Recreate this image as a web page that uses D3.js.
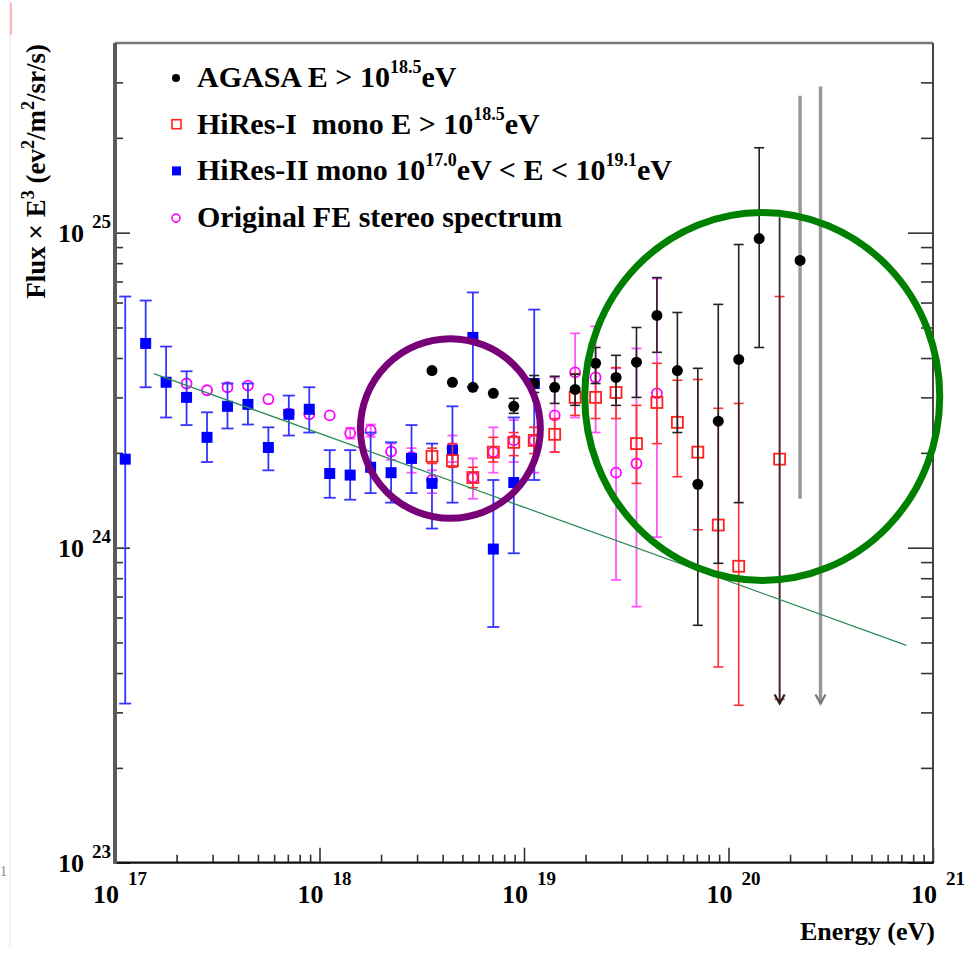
<!DOCTYPE html>
<html>
<head>
<meta charset="utf-8">
<script src="https://cdn.jsdelivr.net/npm/d3@7"></script>
<style>
  body { margin: 0; background: #fff; }
  svg { display: block; font-family: "Liberation Serif", "Times New Roman", serif; font-weight: bold; }
  text { white-space: pre; }
</style>
</head>
<body>
<svg id="chart" width="968" height="953"></svg>
<script>
// energies are log10(E / eV), fluxes are Flux x E^3 in units of 1e24 eV^2/m^2/sr/s
const hires2E  = [17.05, 17.15, 17.25, 17.35, 17.45, 17.55, 17.65, 17.75, 17.85, 17.95, 18.05, 18.15, 18.25, 18.35, 18.45, 18.55, 18.65, 18.75, 18.85, 18.95, 19.05];
const hires2F  = [1.91, 4.45, 3.35, 3.00, 2.24, 2.81, 2.85, 2.08, 2.65, 2.75, 1.72, 1.70, 1.80, 1.73, 1.92, 1.60, 2.04, 4.65, 0.99, 1.61, 3.32];
const hires2Lo = [0.32, 3.23, 2.59, 2.45, 1.87, 2.39, 2.46, 1.76, 2.27, 2.32, 1.44, 1.42, 1.49, 1.39, 1.49, 1.15, 1.39, 3.23, 0.56, 0.96, 1.64];
const hires2Hi = [6.27, 6.09, 4.35, 3.63, 2.69, 3.32, 3.32, 2.41, 3.04, 3.23, 2.04, 2.04, 2.32, 2.16, 2.45, 2.14, 2.81, 6.46, 1.64, 2.59, 5.70];

const feE  = [17.35, 17.45, 17.55, 17.65, 17.75, 17.85, 17.95, 18.05, 18.15, 18.25, 18.35, 18.45, 18.55, 18.65, 18.75, 18.85, 18.95, 19.05, 19.15, 19.25, 19.35, 19.45, 19.55, 19.65];
const feF  = [3.32, 3.16, 3.23, 3.27, 2.96, 2.67, 2.65, 2.63, 2.31, 2.36, 2.02, 1.94, 1.64, 2.07, 1.67, 2.01, 2.19, 2.19, 2.63, 3.60, 3.47, 1.73, 1.85, 3.09];
const feLo = [3.32, 3.16, 3.23, 3.27, 2.96, 2.67, 2.65, 2.63, 2.22, 2.25, 1.90, 1.73, 1.49, 1.87, 1.43, 1.73, 1.87, 1.73, 2.01, 2.59, 2.32, 0.79, 0.65, 1.08];
const feHi = [3.32, 3.16, 3.23, 3.27, 2.96, 2.67, 2.65, 2.63, 2.40, 2.46, 2.14, 2.07, 1.76, 2.27, 1.92, 2.41, 2.54, 2.41, 3.47, 4.79, 5.04, 3.71, 4.29, 7.15];

const hires1E  = [18.55, 18.65, 18.75, 18.85, 18.95, 19.05, 19.15, 19.25, 19.35, 19.45, 19.55, 19.65, 19.75, 19.85, 19.95, 20.05, 20.25];
const hires1F  = [1.95, 1.89, 1.67, 2.01, 2.16, 2.19, 2.29, 3.00, 3.00, 3.11, 2.14, 2.89, 2.50, 2.01, 1.18, 0.873, 1.91];
const hires1Lo = [1.85, 1.80, 1.55, 1.87, 1.96, 1.99, 2.01, 2.63, 2.57, 2.57, 1.60, 2.14, 1.68, 1.14, 0.418, 0.316, 0.33];
const hires1Hi = [2.07, 2.14, 1.80, 2.24, 2.32, 2.41, 2.57, 3.57, 3.85, 3.73, 2.83, 3.85, 3.40, 3.42, 2.77, 2.87, 6.27];

const agasaE  = [18.55, 18.65, 18.75, 18.85, 18.95, 19.05, 19.15, 19.25, 19.35, 19.45, 19.55, 19.65, 19.75, 19.85, 19.95, 20.05, 20.15, 20.35];
const agasaF  = [3.65, 3.35, 3.23, 3.09, 2.81, 3.32, 3.23, 3.18, 3.85, 3.47, 3.88, 5.46, 3.65, 1.59, 2.52, 3.96, 9.58, 8.16];
const agasaLo = [3.65, 3.35, 3.23, 3.09, 2.67, 3.11, 2.87, 2.83, 3.32, 2.83, 3.00, 4.17, 2.32, 0.567, 0.892, 1.39, 4.32, 1.43];
const agasaHi = [3.65, 3.35, 3.23, 3.09, 2.98, 3.52, 3.50, 3.55, 4.32, 4.08, 5.00, 7.20, 5.58, 3.71, 5.92, 9.17, 18.6, 27.2];
// upper limits drawn as arrows
const agasaLimE   = [20.25, 20.45];
const agasaLimTop = [11.2, 29.1];
const agasaLimTip = [0.32, 0.32];

// straight line fit
const fitE = [17.19, 20.87];
const fitF = [3.57, 0.49];

// highlighted regions: centre (log E, flux) and half widths in decades
const markE  = [18.64, 20.165];
const markF  = [2.39, 3.02];
const markRx = [0.44, 0.868];
const markRy = [0.285, 0.584];

const xTickExp = [17, 18, 19, 20, 21];
const yTickExp = [23, 24, 25];

const legendLabels = [
  "AGASA E > 10^{18.5}eV",
  "HiRes-I  mono E > 10^{18.5}eV",
  "HiRes-II mono 10^{17.0}eV < E < 10^{19.1}eV",
  "Original FE stereo spectrum"
];

const svg = d3.select("#chart");
const pL = 115, pR = 933, pT = 43, pB = 862.7;

const x = d3.scaleLog().domain([1e17, 1e21]).range([pL, pR]);
const y = d3.scaleLog().domain([0.1, 40]).range([pB, pT]);
const xe = e => x(Math.pow(10, e));

// faint page edge
svg.append("line").attr("x1", 10).attr("x2", 10).attr("y1", 0).attr("y2", 948)
  .attr("stroke", "#ffdede").attr("stroke-width", 1);
svg.append("line").attr("x1", 11).attr("x2", 11).attr("y1", 3).attr("y2", 35)
  .attr("stroke", "#ffb8b8").attr("stroke-width", 2);
svg.append("text").attr("x", 0).attr("y", 876).attr("font-size", 14)
  .attr("font-weight", "normal").attr("fill", "#888").text("1");

// ticks
const xMinor = [], yMinor = [];
for (let n = 17; n < 21; n++) for (let k = 2; k < 10; k++) xMinor.push(k * Math.pow(10, n));
for (let n = -1; n < 2; n++) for (let k = 2; k < 10; k++) {
  const v = k * Math.pow(10, n);
  if (v < 39) yMinor.push(v);
}
const xMajor = xTickExp.map(p => Math.pow(10, p));
const yMajor = yTickExp.map(p => Math.pow(10, p - 24));

const tickAxis = (gen, vals, size, tx, ty) => {
  const g = svg.append("g").attr("transform", `translate(${tx},${ty})`)
    .call(gen.tickValues(vals).tickSize(size).tickFormat(""));
  g.select(".domain").remove();
  g.selectAll("line").attr("stroke", "#333").attr("stroke-width", 1.6);
};
tickAxis(d3.axisBottom(x), xMajor, -15, 0, pB);
tickAxis(d3.axisBottom(x), xMinor, -8, 0, pB);
tickAxis(d3.axisLeft(y), yMajor, -15, pL, 0);
tickAxis(d3.axisLeft(y), yMinor, -8, pL, 0);
tickAxis(d3.axisRight(y), yMajor, -25, pR, 0);
tickAxis(d3.axisRight(y), yMinor, -12, pR, 0);

// frame
svg.append("line").attr("x1", pL).attr("x2", pR).attr("y1", pT).attr("y2", pT)
  .attr("stroke", "#777").attr("stroke-width", 2.5);
svg.append("line").attr("x1", pR).attr("x2", pR).attr("y1", pT).attr("y2", pB)
  .attr("stroke", "#444").attr("stroke-width", 2);
svg.append("line").attr("x1", pL).attr("x2", pR + 1).attr("y1", pB).attr("y2", pB)
  .attr("stroke", "#111").attr("stroke-width", 2.2);
svg.append("line").attr("x1", pL).attr("x2", pL).attr("y1", pT).attr("y2", pB + 1)
  .attr("stroke", "#5a5a5a").attr("stroke-width", 4);

// tick labels
xTickExp.forEach(p => {
  const t = svg.append("text").attr("x", x(Math.pow(10, p)) - 22).attr("y", 903).attr("font-size", 26);
  t.append("tspan").text("10");
  t.append("tspan").attr("dx", 9).attr("dy", -18).attr("font-size", 19).text(p);
});
yTickExp.forEach(p => {
  const t = svg.append("text").attr("x", 58).attr("y", y(Math.pow(10, p - 24)) + 9).attr("font-size", 26);
  t.append("tspan").text("10");
  t.append("tspan").attr("dx", 8).attr("dy", -14).attr("font-size", 19).text(p);
});

// rich text with ^{...} superscripts
const rich = (sel, str, size, supSize, raise) => {
  const parts = str.split(/(\^\{[^}]*\})/).filter(s => s.length);
  let up = false;
  parts.forEach(p => {
    if (p.startsWith("^{")) {
      sel.append("tspan").attr("dy", -raise).attr("font-size", supSize).text(p.slice(2, -1));
      up = true;
    } else {
      sel.append("tspan").attr("dy", up ? raise : 0).attr("font-size", size).text(p);
      up = false;
    }
  });
};

// axis titles
const yt = svg.append("text").attr("transform", "translate(45,44) rotate(-90)")
  .attr("text-anchor", "end");
rich(yt, "Flux \u00d7 E^{3} (ev^{2}/m^{2}/sr/s)", 27, 18, 11);
svg.append("text").attr("x", 935).attr("y", 940).attr("text-anchor", "end")
  .attr("font-size", 26).text("Energy (eV)");

// data helpers
const rows = (E, F, lo, hi) => E.map((e, i) => ({ x: xe(e), y: y(F[i]), lo: y(lo[i]), hi: y(hi[i]), top: hi[i] }));

const errBars = (data, color, width, cap) => {
  const g = svg.append("g").attr("stroke", color).attr("stroke-width", width);
  const withErr = data.filter(d => Math.abs(d.lo - d.hi) > 0.5);
  g.selectAll("line.bar").data(withErr).join("line").attr("class", "bar")
    .attr("x1", d => d.x).attr("x2", d => d.x).attr("y1", d => d.lo).attr("y2", d => d.hi);
  g.selectAll("line.capLo").data(withErr).join("line").attr("class", "capLo")
    .attr("x1", d => d.x - cap).attr("x2", d => d.x + cap).attr("y1", d => d.lo).attr("y2", d => d.lo);
  g.selectAll("line.capHi").data(withErr).join("line").attr("class", "capHi")
    .attr("x1", d => d.x - cap).attr("x2", d => d.x + cap).attr("y1", d => d.hi).attr("y2", d => d.hi);
  return g;
};

// Original FE stereo (magenta circles)
const fe = rows(feE, feF, feLo, feHi);
errBars(fe, "#ff55ff", 1.8, 5);
svg.append("g").selectAll("circle").data(fe).join("circle")
  .attr("cx", d => d.x).attr("cy", d => d.y).attr("r", 5)
  .attr("fill", "none").attr("stroke", "#ff00ff").attr("stroke-width", 1.8);

// HiRes-II (blue filled squares)
const h2 = rows(hires2E, hires2F, hires2Lo, hires2Hi);
errBars(h2, "#3535ff", 1.8, 6);
svg.append("g").selectAll("rect").data(h2).join("rect")
  .attr("x", d => d.x - 5.5).attr("y", d => d.y - 5.5).attr("width", 11).attr("height", 11)
  .attr("fill", "#0000ff");

// HiRes-I (red open squares)
const h1 = rows(hires1E, hires1F, hires1Lo, hires1Hi);
errBars(h1, "#ff3030", 1.6, 5);
svg.append("g").selectAll("rect").data(h1).join("rect")
  .attr("x", d => d.x - 5.5).attr("y", d => d.y - 5.5).attr("width", 11).attr("height", 11)
  .attr("fill", "none").attr("stroke", "#ff2020").attr("stroke-width", 1.8);

// AGASA (black dots), very long bars come out grey and capless
const ag = rows(agasaE, agasaF, agasaLo, agasaHi);
errBars(ag.filter(d => d.top < 20), "#222", 1.6, 5);
svg.append("g").selectAll("line").data(ag.filter(d => d.top >= 20)).join("line")
  .attr("x1", d => d.x).attr("x2", d => d.x).attr("y1", d => d.lo).attr("y2", d => d.hi)
  .attr("stroke", "#999").attr("stroke-width", 3.5);

const lims = agasaLimE.map((e, i) => ({ x: xe(e), top: y(agasaLimTop[i]), tip: y(agasaLimTip[i]), v: agasaLimTop[i] }));
const limG = svg.append("g").attr("fill", "none");
limG.selectAll("line").data(lims).join("line")
  .attr("x1", d => d.x).attr("x2", d => d.x).attr("y1", d => d.top).attr("y2", d => d.tip)
  .attr("stroke", d => d.v >= 20 ? "#999" : "#333")
  .attr("stroke-width", d => d.v >= 20 ? 3.5 : 1.8);
limG.selectAll("path").data(lims).join("path")
  .attr("d", d => `M${d.x - 5},${d.tip - 9}L${d.x},${d.tip}L${d.x + 5},${d.tip - 9}`)
  .attr("stroke", d => d.v >= 20 ? "#777" : "#222").attr("stroke-width", 2.2);

svg.append("g").selectAll("circle").data(ag).join("circle")
  .attr("cx", d => d.x).attr("cy", d => d.y).attr("r", 5.5).attr("fill", "#000");

// fit line
const fitLine = d3.line().x(d => xe(d[0])).y(d => y(d[1]));
svg.append("path").datum(fitE.map((e, i) => [e, fitF[i]]))
  .attr("d", fitLine).attr("fill", "none").attr("stroke", "#2e8b57").attr("stroke-width", 1.3);

// legend
const legendY = legendLabels.map((l, i) => 87 + i * 46.7);
const lg = svg.append("g");
lg.append("circle").attr("cx", 176).attr("cy", legendY[0] - 9).attr("r", 4).attr("fill", "#000");
lg.append("rect").attr("x", 172).attr("y", legendY[1] - 14).attr("width", 9).attr("height", 9)
  .attr("fill", "none").attr("stroke", "#ff2020").attr("stroke-width", 1.6);
lg.append("rect").attr("x", 172).attr("y", legendY[2] - 14).attr("width", 9).attr("height", 9)
  .attr("fill", "#0000ff");
lg.append("circle").attr("cx", 176).attr("cy", legendY[3] - 9).attr("r", 4)
  .attr("fill", "none").attr("stroke", "#ff00ff").attr("stroke-width", 1.6);
legendLabels.forEach((l, i) => {
  const t = lg.append("text").attr("x", 197).attr("y", legendY[i]);
  rich(t, l, 30, 18, 14);
});

// highlighted regions
const marks = markE.map((e, i) => ({
  cx: xe(e), cy: y(markF[i]),
  rx: xe(e + markRx[i]) - xe(e),
  ry: y(markF[i]) - y(markF[i] * Math.pow(10, markRy[i]))
}));
svg.append("g").selectAll("ellipse").data(marks).join("ellipse")
  .attr("cx", d => d.cx).attr("cy", d => d.cy).attr("rx", d => d.rx).attr("ry", d => d.ry)
  .attr("fill", "none").attr("stroke", (d, i) => i === 0 ? "#780078" : "#008000")
  .attr("stroke-width", 7);
</script>
</body>
</html>
